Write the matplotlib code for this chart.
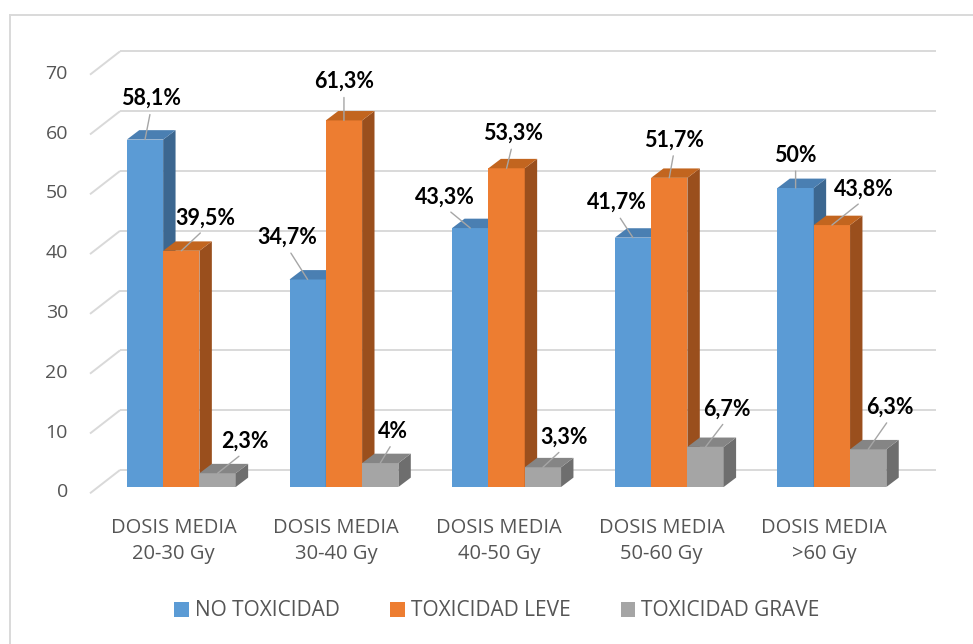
import matplotlib
matplotlib.use("Agg")
import matplotlib.pyplot as plt
from matplotlib.patches import Polygon, Patch
from matplotlib.lines import Line2D

# ---- data ----
categories = ["DOSIS MEDIA\n20-30 Gy", "DOSIS MEDIA\n30-40 Gy", "DOSIS MEDIA\n40-50 Gy",
              "DOSIS MEDIA\n50-60 Gy", "DOSIS MEDIA\n>60 Gy"]
series_names = ["NO TOXICIDAD", "TOXICIDAD LEVE", "TOXICIDAD GRAVE"]
no_toxicidad = [58.1, 34.7, 43.3, 41.7, 50]
toxicidad_leve = [39.5, 61.3, 53.3, 51.7, 43.8]
toxicidad_grave = [2.3, 4, 3.3, 6.7, 6.3]
y_ticks = [0, 10, 20, 30, 40, 50, 60, 70]

series_values = [no_toxicidad, toxicidad_leve, toxicidad_grave]

# ---- styling ----
front_colors = ["#5b9bd5", "#ed7d31", "#a5a5a5"]
top_colors = ["#4a7fb2", "#c2651f", "#858585"]
side_colors = ["#3c6790", "#9a4f1d", "#6e6e6e"]
text_gray = "#555555"
grid_gray = "#d9d9d9"
label_font = "Open Sans"

# label offsets (pixels) from the front-top edge of each bar
label_offsets = [
    [(6, 41), (-20, 42), (-25, 31), (-16, 35), (0, 33)],
    [(24, 33), (0, 39), (6, 35), (5, 38), (32, 36)],
    [(27, 32), (13, 32), (21, 30), (21, 38), (22, 42)],
]

W, H = 973, 644
fig = plt.figure(figsize=(W / 100, H / 100), dpi=100)
ax = fig.add_axes([0, 0, 1, 1])

# axis scales: one category per unit, value units on the vertical
px_per_cat = 162.65
px_per_val = 5.98
x0_px, y0_px = 181.3, 487.0
ax.set_xlim(-x0_px / px_per_cat, (W - x0_px) / px_per_cat)
ax.set_ylim((y0_px - H) / px_per_val, y0_px / px_per_val)
ax.axis("off")

# depth geometry (in data units)
bar_w = 36.3 / px_per_cat
bar_dx = 12.4 / px_per_cat
bar_dy = 9.4 / px_per_val
wall_front_x = (90 - x0_px) / px_per_cat
wall_front_dy = -(493.3 - y0_px) / px_per_val
wall_back_x = (120 - x0_px) / px_per_cat
wall_back_dy = (y0_px - 470) / px_per_val
wall_right_x = (936 - x0_px) / px_per_cat

# chart border
fig.add_artist(Line2D([10 / W, 1], [1 - 15 / H, 1 - 15 / H], color=grid_gray, lw=1.4))
fig.add_artist(Line2D([10 / W, 10 / W], [0, 1 - 15 / H], color=grid_gray, lw=1.4))

# side wall slants and back wall gridlines
for t in y_ticks:
    ax.plot([wall_front_x, wall_back_x], [t + wall_front_dy, t + wall_back_dy],
            color=grid_gray, lw=1.4, zorder=1, solid_capstyle="butt")
    ax.plot([wall_back_x, wall_right_x], [t + wall_back_dy, t + wall_back_dy],
            color=grid_gray, lw=1.4, zorder=1, solid_capstyle="butt")
    ax.text(68 / px_per_cat + ax.get_xlim()[0], t + wall_front_dy + 0.15, str(t),
            ha="right", va="center", fontsize=14, color=text_gray, family=label_font)

# bars with side and top faces
z = 3
for i in range(len(categories)):
    for k, vals in enumerate(series_values):
        v = vals[i]
        xc = i + (k - 1) * bar_w
        ax.bar(xc, v, width=bar_w, color=front_colors[k], zorder=z, linewidth=0)
        xr = xc + bar_w / 2
        xl = xc - bar_w / 2
        side = Polygon([(xr, 0), (xr + bar_dx, bar_dy), (xr + bar_dx, v + bar_dy), (xr, v)],
                       closed=True, facecolor=side_colors[k], edgecolor="none", zorder=z)
        top = Polygon([(xl, v), (xr, v), (xr + bar_dx, v + bar_dy), (xl + bar_dx, v + bar_dy)],
                      closed=True, facecolor=top_colors[k], edgecolor="none", zorder=z)
        ax.add_patch(side)
        ax.add_patch(top)
        z += 1

# value labels with leader lines
for k, vals in enumerate(series_values):
    for i, v in enumerate(vals):
        xc = i + (k - 1) * bar_w
        txt = f"{v:g}".replace(".", ",") + "%"
        ax.annotate(txt, xy=(xc, v), xytext=label_offsets[k][i], textcoords="offset pixels",
                    ha="center", va="center", fontsize=15.5, fontweight="bold",
                    family="Lato", color="black", zorder=50,
                    arrowprops=dict(arrowstyle="-", color="#a6a6a6", lw=1.0,
                                    shrinkA=2, shrinkB=0, relpos=(0.5, 0.0)))

# category labels
for i, c in enumerate(categories):
    ax.text(i - 7.8 / px_per_cat, (y0_px - 541) / px_per_val, c, ha="center", va="center",
            fontsize=14.5, color=text_gray, family=label_font, linespacing=1.4)

# legend
handles = [Patch(facecolor=front_colors[k], edgecolor="none", label=series_names[k])
           for k in range(3)]
fig.legend(handles=handles, loc="center", bbox_to_anchor=(497 / W, 1 - 611 / H), ncol=3,
           frameon=False, prop={"family": label_font, "size": 15},
           labelcolor=text_gray, handlelength=0.7, handleheight=0.7,
           handletextpad=0.3, columnspacing=2.4)

fig.savefig("out.png", dpi=100)
